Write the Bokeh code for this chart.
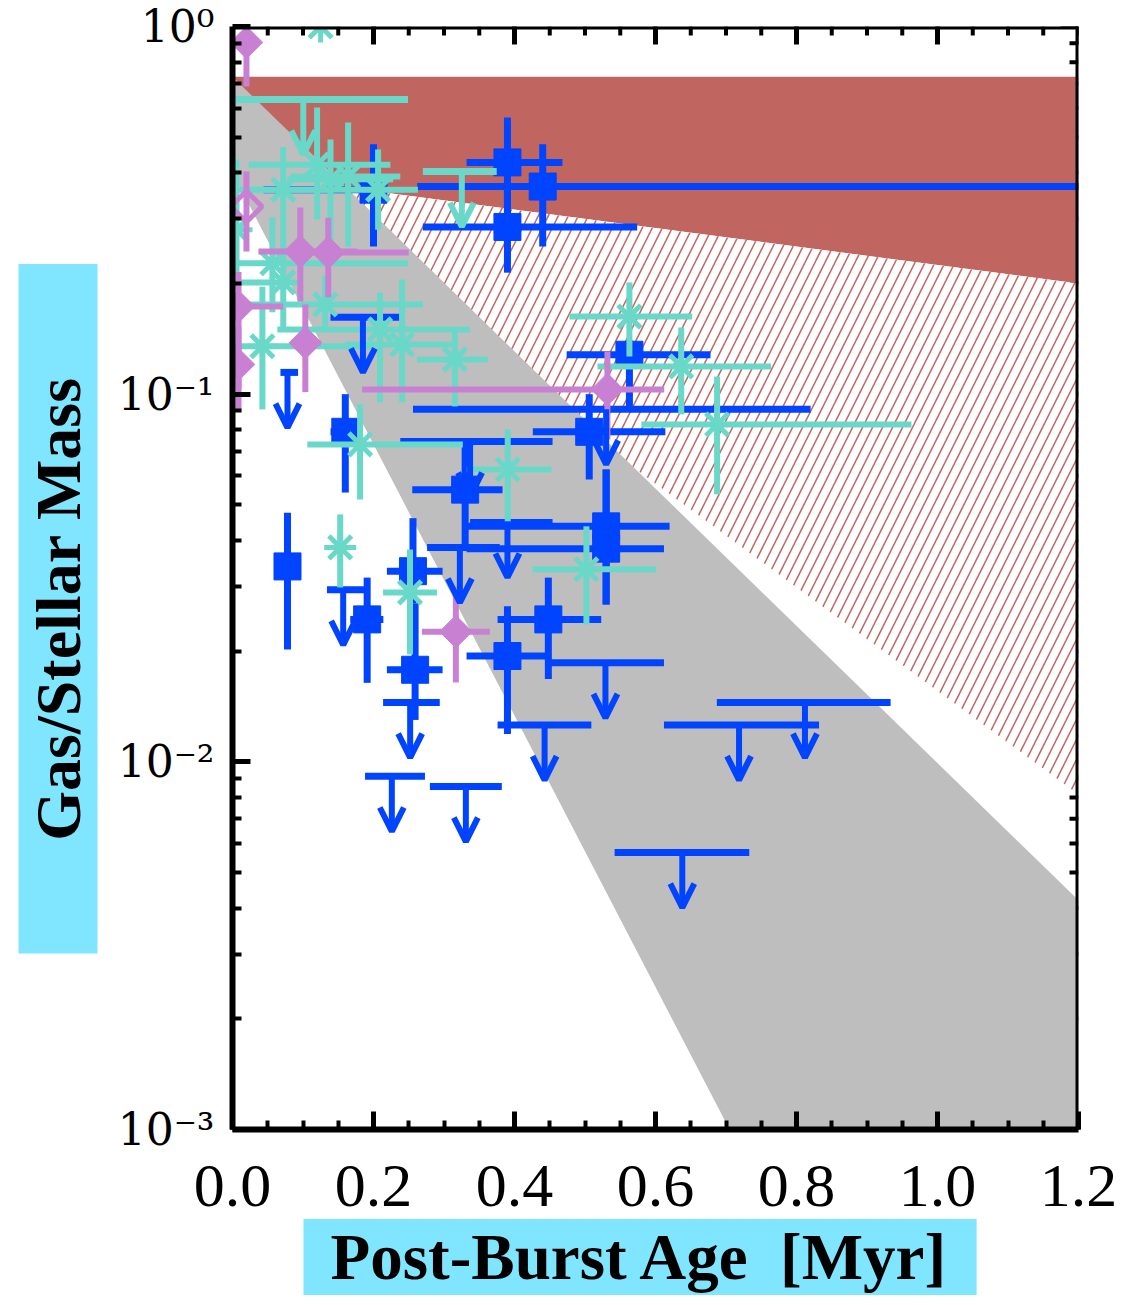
import math
from bokeh.plotting import figure
from bokeh.models import (ColumnDataSource, FixedTicker, CustomJSTickFormatter, Span, Title,
                          NumeralTickFormatter, Arrow, OpenHead)
from bokeh.embed import file_html
from bokeh.resources import INLINE

# ---------------- data ----------------
# model bands: values read at t = 0 and t = 1.2
band_t = [0.0, 1.2]
red_top = [0.73, 0.73]
red_low = [0.40, 0.20]
hatch_low = [0.40, 0.00815]
gray_top = [0.73, 0.0042]
gray_low_t = [0.0, 0.705]
gray_low = [0.40, 0.001]

# blue detections
blue_t   = [0.39, 0.44, 0.39, 0.20, 0.16, 0.563, 0.506, 0.53, 0.53, 0.33, 0.078, 0.191, 0.256, 0.259, 0.448, 0.39]
blue_v   = [0.427, 0.367, 0.285, 0.36, 0.079, 0.128, 0.079, 0.0437, 0.038, 0.055, 0.034, 0.0244, 0.033, 0.0178, 0.0244, 0.0194]
blue_tlo = [0.332, 0.262, 0.270, 0.044, 0.139, 0.474, 0.426, 0.33, 0.332, 0.255, 0.078, 0.167, 0.219, 0.219, 0.376, 0.332]
blue_thi = [0.468, 1.25, 0.574, 0.205, 0.178, 0.678, 0.614, 0.62, 0.612, 0.383, 0.078, 0.214, 0.298, 0.298, 0.523, 0.45]
blue_vlo = [0.308, 0.252, 0.214, 0.252, 0.054, 0.0926, 0.0586, 0.0268, 0.0268, 0.039, 0.0202, 0.0164, 0.027, 0.013, 0.0168, 0.0119]
blue_vhi = [0.566, 0.478, 0.36, 0.478, 0.10, 0.14, 0.10, 0.0624, 0.0624, 0.075, 0.0476, 0.0317, 0.046, 0.027, 0.0317, 0.0265]

# blue upper limits
blim_t   = [0.185, 0.078, 0.53, 0.337, 0.3225, 0.39, 0.157, 0.529, 0.252, 0.4427, 0.226, 0.331, 0.638, 0.7185, 0.812]
blim_v   = [0.162, 0.1146, 0.091, 0.0744, 0.0383, 0.0448, 0.0294, 0.0186, 0.0145, 0.0126, 0.00913, 0.00857, 0.00567, 0.0126, 0.0145]
blim_tlo = [0.139, 0.068, 0.256, 0.238, 0.276, 0.337, 0.134, 0.447, 0.2136, 0.376, 0.188, 0.280, 0.542, 0.612, 0.687]
blim_thi = [0.238, 0.093, 0.82, 0.454, 0.379, 0.454, 0.191, 0.612, 0.294, 0.509, 0.273, 0.382, 0.733, 0.832, 0.9335]

# cyan detections
cyan_t   = [0.125, 0.072, 0.12, 0.164, 0.2065, 0.139, 0.0566, 0.072, 0.1315, 0.2093, 0.2405, 0.3154, 0.0424, 0.0057, 0.181, 0.3904, 0.1528, 0.2518, 0.502, 0.563, 0.6365, 0.6874]
cyan_v   = [1.0, 0.36, 0.421, 0.391, 0.36, 0.384, 0.227, 0.2013, 0.1754, 0.15, 0.1365, 0.1243, 0.135, 0.28, 0.073, 0.0624, 0.0383, 0.0289, 0.0334, 0.1626, 0.119, 0.0827]
cyan_tlo = [0.125, 0.02, 0.023, 0.082, 0.0, 0.078, 0.0, 0.0, 0.0113, 0.0636, 0.16, 0.2617, 0.0, 0.0057, 0.1061, 0.3324, 0.1528, 0.2136, 0.4257, 0.478, 0.5177, 0.58]
cyan_thi = [0.125, 0.14, 0.224, 0.238, 0.263, 0.228, 0.249, 0.10, 0.27, 0.3366, 0.32, 0.362, 0.1994, 0.0057, 0.3267, 0.4526, 0.1528, 0.290, 0.601, 0.652, 0.764, 0.963]
cyan_vlo = [1.0, 0.26, 0.2985, 0.252, 0.28, 0.25, 0.167, 0.15, 0.15, 0.095, 0.095, 0.0926, 0.0909, 0.1927, 0.0517, 0.0451, 0.0298, 0.0196, 0.02365, 0.1266, 0.0881, 0.0534]
cyan_vhi = [1.0, 0.47, 0.602, 0.548, 0.463, 0.493, 0.303, 0.2635, 0.21, 0.189, 0.205, 0.15, 0.196, 0.435, 0.0938, 0.0802, 0.0471, 0.0378, 0.0437, 0.2013, 0.1518, 0.1117]

# cyan upper limits
clim_t   = [0.1004, 0.3253]
clim_v   = [0.633, 0.403]
clim_tlo = [0.0, 0.270]
clim_thi = [0.249, 0.3748]

# pink detections (filled)
pink_t   = [0.0198, 0.0962, 0.1358, 0.0085, 0.1033, 0.0085, 0.5318, 0.3168]
pink_v   = [0.905, 0.2444, 0.2428, 0.1732, 0.138, 0.1205, 0.103, 0.0226]
pink_tlo = [0.0198, 0.0368, 0.10, 0.0, 0.085, 0.0085, 0.1839, 0.2687]
pink_thi = [0.0198, 0.1768, 0.25, 0.072, 0.125, 0.0085, 0.6124, 0.365]
pink_vlo = [0.687, 0.1787, 0.1833, 0.103, 0.1013, 0.0897, 0.0753, 0.01644]
pink_vhi = [0.905, 0.322, 0.302, 0.215, 0.1754, 0.1528, 0.1306, 0.0289]

# pink open diamond
popen_t = [0.0198]
popen_v = [0.324]
popen_vlo = [0.2444]
popen_vhi = [0.403]

x_major = [0.0, 0.2, 0.4, 0.6, 0.8, 1.0, 1.2]
y_major = [1e-3, 1e-2, 1e-1, 1.0]

# ---------------- style ----------------
RED = "#c0655f"
GRAY = "#bebebe"
BLUE = "#0044ff"
CYAN = "#6ad8c8"
PINK = "#c880d2"
BOXC = "#80e6ff"
ARROW_DEX = 0.15
X0, X1 = 0.0, 1.2
Y0, Y1 = 1e-3, 1.0

p = figure(width=1125, height=1305, x_range=(X0, X1), y_range=(Y0, Y1),
           y_axis_type="log", output_backend="svg", toolbar_location=None,
           min_border_left=232, min_border_right=47, min_border_top=26, min_border_bottom=176,
           background_fill_color="white", border_fill_color="white", outline_line_color=None)
p.xgrid.visible = False
p.ygrid.visible = False

x_minor = [round(0.05 * i, 3) for i in range(0, 25)]
y_minor = [k * 10.0 ** n for n in (-3, -2, -1) for k in range(2, 10)]
xt = FixedTicker(ticks=x_major, minor_ticks=x_minor)
yt = FixedTicker(ticks=y_major, minor_ticks=y_minor)

ylab_js = """
const e = Math.round(Math.log10(tick));
const m = {"0": "\u2070", "1": "\u00b9", "2": "\u00b2", "3": "\u00b3", "-": "\u207b"};
return "10" + String(e).split("").map(c => m[c]).join("");
"""

def style_axis(ax):
    ax.axis_line_width = 6
    ax.axis_line_color = "black"
    ax.major_tick_line_width = 5
    ax.minor_tick_line_width = 4
    ax.major_tick_in = 18
    ax.major_tick_out = 0
    ax.minor_tick_in = 9
    ax.minor_tick_out = 0

bx = p.below[0]
bx.ticker = xt
bx.formatter = NumeralTickFormatter(format="0.0")
bx.major_label_text_font = "Liberation Serif"
bx.major_label_text_font_size = "62px"
bx.major_label_text_color = "black"
bx.major_label_standoff = 36
style_axis(bx)

ly = p.left[0]
ly.ticker = yt
ly.formatter = CustomJSTickFormatter(code=ylab_js)
ly.major_label_text_font = "DejaVu Serif"
ly.major_label_text_font_size = "44px"
ly.major_label_text_color = "black"
ly.major_label_standoff = 18
style_axis(ly)

# mirrored ticks on top and right edges (drawn under the bands)
p.ray(x=x_major, y=[Y1] * len(x_major), length=18, length_units="screen", angle=-math.pi / 2,
      line_color="black", line_width=5)
p.ray(x=x_minor, y=[Y1] * len(x_minor), length=9, length_units="screen", angle=-math.pi / 2,
      line_color="black", line_width=4)
p.ray(x=[X1] * len(y_major), y=y_major, length=18, length_units="screen", angle=math.pi,
      line_color="black", line_width=5)
p.ray(x=[X1] * len(y_minor), y=y_minor, length=9, length_units="screen", angle=math.pi,
      line_color="black", line_width=4)

# ---------------- bands ----------------
p.patch(band_t + band_t[::-1], red_top + red_low[::-1], fill_color=RED, line_color=None)
p.patch(band_t + band_t[::-1], red_low + hatch_low[::-1], fill_color="white", line_color=None,
        hatch_pattern="/", hatch_color=RED, hatch_weight=1.5, hatch_scale=20)
p.patch([band_t[0], band_t[1], band_t[1], gray_low_t[1], gray_low_t[0]],
        [gray_top[0], gray_top[1], gray_low[1], gray_low[1], gray_low[0]],
        fill_color=GRAY, line_color=None)

# frame lines on top and right
p.add_layout(Span(location=Y1, dimension="width", line_color="black", line_width=6))
p.add_layout(Span(location=X1, dimension="height", line_color="black", line_width=6))

# ---------------- points ----------------
def detections(t, v, tlo, thi, vlo, vhi, color, lw):
    p.segment(x0=tlo, y0=v, x1=thi, y1=v, line_color=color, line_width=lw)
    p.segment(x0=t, y0=vlo, x1=t, y1=vhi, line_color=color, line_width=lw)

def limits(t, v, tlo, thi, color):
    p.segment(x0=tlo, y0=v, x1=thi, y1=v, line_color=color, line_width=7)
    src = ColumnDataSource(dict(x=t, y=v, ye=[val / 10 ** ARROW_DEX for val in v]))
    p.add_layout(Arrow(end=OpenHead(size=24, line_color=color, line_width=6),
                       x_start="x", y_start="y", x_end="x", y_end="ye",
                       line_color=color, line_width=6, source=src))

detections(blue_t, blue_v, blue_tlo, blue_thi, blue_vlo, blue_vhi, BLUE, 7)
p.scatter(blue_t, blue_v, marker="square", size=27, fill_color=BLUE, line_color=BLUE)
limits(blim_t, blim_v, blim_tlo, blim_thi, BLUE)

detections(cyan_t, cyan_v, cyan_tlo, cyan_thi, cyan_vlo, cyan_vhi, CYAN, 6)
p.scatter(cyan_t, cyan_v, marker="asterisk", size=32, line_color=CYAN, line_width=5)
limits(clim_t, clim_v, clim_tlo, clim_thi, CYAN)

detections(pink_t, pink_v, pink_tlo, pink_thi, pink_vlo, pink_vhi, PINK, 6)
p.scatter(pink_t, pink_v, marker="square", angle=math.pi / 4, size=23, fill_color=PINK, line_color=PINK)
p.segment(x0=popen_t, y0=popen_vlo, x1=popen_t, y1=popen_vhi, line_color=PINK, line_width=6)
p.scatter(popen_t, popen_v, marker="square", angle=math.pi / 4, size=22, fill_color=None,
          line_color=PINK, line_width=5)

# ---------------- axis titles with cyan boxes ----------------
# wide spaces (not collapsed in SVG) lengthen the cyan box along the vertical title
ytitle = Title(text="\u2003\u2002\u2009Gas/Stellar Mass\u2003\u2002\u2009", align="left", offset=176,
               standoff=30, vertical_align="top",
               text_font="Liberation Serif", text_font_style="bold", text_font_size="64px",
               text_color="black", background_fill_color=BOXC, border_line_color=None)
xtitle = Title(text="Post-Burst Age\u00a0 [Myr]", align="left", offset=71, standoff=17,
               text_font="Liberation Serif", text_font_style="bold", text_font_size="65px",
               text_color="black", background_fill_color=BOXC, border_line_color=None)
if "padding" in Title.properties():
    ytitle.padding = (4, 4)
    xtitle.padding = (27, 2)
p.add_layout(ytitle, "left")
p.add_layout(xtitle, "below")

open("out.html", "w").write(file_html(p, INLINE))
